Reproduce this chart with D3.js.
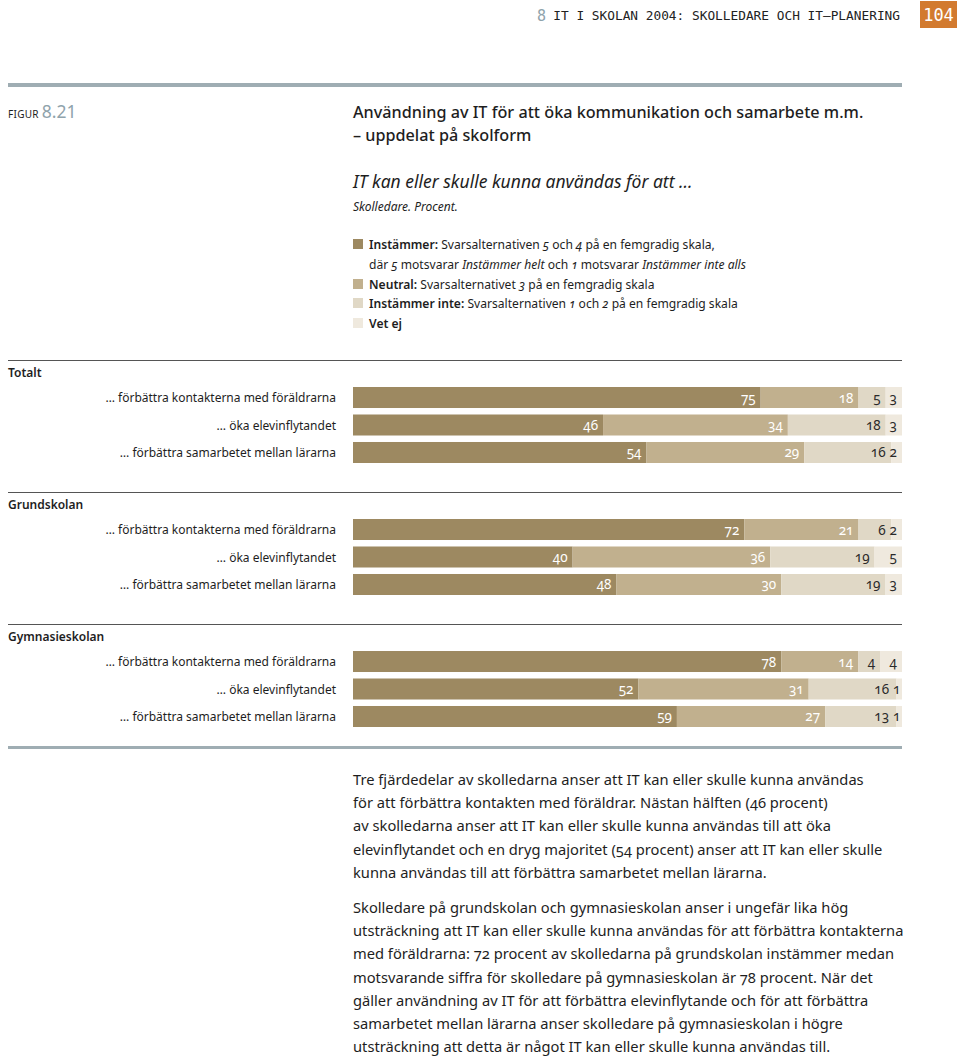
<!DOCTYPE html>
<html><head><meta charset="utf-8">
<script src="https://cdn.jsdelivr.net/npm/d3@7"></script>
<style>
body{margin:0;background:#fff;}
svg{display:block;font-family:"Noto Sans",sans-serif;}
.onum{font-variant-numeric:oldstyle-nums;font-feature-settings:"onum" 1;}
</style></head><body>
<script>
const groups = ["Totalt", "Grundskolan", "Gymnasieskolan"];
const items = ["… förbättra kontakterna med föräldrarna", "… öka elevinflytandet", "… förbättra samarbetet mellan lärarna"];
const seriesNames = ["Instämmer", "Neutral", "Instämmer inte", "Vet ej"];
const instammer     = [75, 46, 54, 72, 40, 48, 78, 52, 59];
const neutral       = [18, 34, 29, 21, 36, 30, 14, 31, 27];
const instammerInte = [5, 18, 16, 6, 19, 19, 4, 16, 13];
const vetEj         = [3, 3, 2, 2, 5, 3, 4, 1, 1];
const colors = ["#9d8961", "#c1b08e", "#e0d8c6", "#efe9de"];
const labelColors = ["#fff", "#fff", "#2a2a2a", "#2a2a2a"];

const W = 960, H = 1056;
const svg = d3.select("body").append("svg").attr("width", W).attr("height", H);
const ink = "#1e1e1e";

// Header
svg.append("text").attr("x", 537).attr("y", 21).attr("fill", "#8fa3ac")
  .style("font-family", "'DejaVu Sans Mono',monospace").style("font-size", "15px").text("8");
svg.append("text").attr("x", 900).attr("y", 20).attr("text-anchor", "end").attr("fill", "#222")
  .style("font-family", "'DejaVu Sans Mono',monospace").style("font-size", "12.8px")
  .text("IT I SKOLAN 2004: SKOLLEDARE OCH IT–PLANERING");
svg.append("rect").attr("x", 920).attr("y", 1).attr("width", 37).attr("height", 27).attr("fill", "#d27a2f");
svg.append("text").attr("x", 938.5).attr("y", 21).attr("text-anchor", "middle").attr("fill", "#fff")
  .style("font-family", "'DejaVu Sans Mono',monospace").style("font-size", "17px").text("104");

// top rule
svg.append("rect").attr("x", 8).attr("y", 83).attr("width", 894).attr("height", 4).attr("fill", "#9fadb3");

// Figure label
const fig = svg.append("text").attr("x", 8).attr("y", 118);
fig.append("tspan").attr("fill", ink).style("font-size", "10px").style("letter-spacing", "0.3px").text("FIGUR ");
fig.append("tspan").attr("fill", "#8fa3ac").style("font-size", "17.5px").text("8.21");

// Title
svg.append("text").attr("x", 353).attr("y", 118).attr("fill", ink).style("font-size", "16.2px").style("font-weight", 500)
  .text("Användning av IT för att öka kommunikation och samarbete m.m.");
svg.append("text").attr("x", 353).attr("y", 141).attr("fill", ink).style("font-size", "16.2px").style("font-weight", 500)
  .text("– uppdelat på skolform");
svg.append("text").attr("x", 353).attr("y", 188).attr("fill", ink).style("font-size", "17.5px").style("font-style", "italic")
  .text("IT kan eller skulle kunna användas för att …");
svg.append("text").attr("x", 353).attr("y", 211).attr("fill", ink).style("font-size", "12px").style("font-style", "italic")
  .text("Skolledare. Procent.");

// Legend
const legendRows = [
  {sw: 0, y: 249, parts: [["Instämmer:", "b"], [" Svarsalternativen ", ""], ["5", "i"], [" och ", ""], ["4", "i"], [" på en femgradig skala,", ""]]},
  {sw: -1, y: 269, parts: [["där ", ""], ["5", "i"], [" motsvarar ", ""], ["Instämmer helt", "i"], [" och ", ""], ["1", "i"], [" motsvarar ", ""], ["Instämmer inte alls", "i"]]},
  {sw: 1, y: 289, parts: [["Neutral:", "b"], [" Svarsalternativet ", ""], ["3", "i"], [" på en femgradig skala", ""]]},
  {sw: 2, y: 308, parts: [["Instämmer inte:", "b"], [" Svarsalternativen ", ""], ["1", "i"], [" och ", ""], ["2", "i"], [" på en femgradig skala", ""]]},
  {sw: 3, y: 328, parts: [["Vet ej", "b"]]}
];
legendRows.forEach(r => {
  if (r.sw >= 0) svg.append("rect").attr("x", 353).attr("y", r.y - 10).attr("width", 10).attr("height", 10).attr("fill", colors[r.sw]);
  const t = svg.append("text").attr("x", 369).attr("y", r.y).attr("fill", ink).style("font-size", "12.1px").attr("class", "onum");
  r.parts.forEach(p => {
    const s = t.append("tspan").text(p[0]);
    if (p[1] === "b") s.style("font-weight", 600);
    if (p[1] === "i") s.style("font-style", "italic");
  });
});

// Chart
const gy = d3.scaleBand().domain(groups).range([360, 756]);
const iy = d3.scaleBand().domain(items).range([27, 103]).paddingInner(0.236).paddingOuter(0);
const x0 = 353, x1 = 902;

groups.forEach((g, gi) => {
  const top = gy(g);
  svg.append("line").attr("x1", 8).attr("x2", 902).attr("y1", top + 0.5).attr("y2", top + 0.5)
    .attr("stroke", "#555").attr("stroke-width", 1);
  svg.append("text").attr("x", 8).attr("y", top + 17).attr("fill", ink).style("font-size", "12px").style("font-weight", 600).text(g);
  items.forEach((it, ii) => {
    const idx = gi * 3 + ii;
    const vals = [instammer[idx], neutral[idx], instammerInte[idx], vetEj[idx]];
    const total = d3.sum(vals);
    const x = d3.scaleLinear().domain([0, total]).range([x0, x1]);
    const y = top + iy(it), h = iy.bandwidth();
    svg.append("text").attr("x", 336).attr("y", y + h / 2 + 4.5).attr("text-anchor", "end").attr("fill", ink)
      .style("font-size", "12px").text(it);
    let cum = 0;
    const ends = [];
    vals.forEach((v, si) => {
      const a = x(cum), b = x(cum + v);
      svg.append("rect").attr("x", a).attr("y", y).attr("width", b - a).attr("height", h).attr("fill", colors[si]);
      cum += v;
      ends.push(b);
    });
    // place labels right-to-left so small segments don't collide
    let limit = Infinity;
    for (let si = vals.length - 1; si >= 0; si--) {
      const segW = ends[si] - (si ? ends[si - 1] : x0);
      let right = Math.min(ends[si] - (segW < 10 ? 1.5 : 5), limit);
      const t = svg.append("text").attr("class", "onum").attr("x", right).attr("y", y + h / 2 + 5).attr("text-anchor", "end")
        .attr("fill", labelColors[si]).style("font-size", "13.5px").text(vals[si]);
      const w = t.node().getComputedTextLength();
      limit = right - w - 4;
    }
  });
});
svg.append("rect").attr("x", 8).attr("y", 746).attr("width", 894).attr("height", 3).attr("fill", "#9fadb3");

// Body text
const para1 = [
  "Tre fjärdedelar av skolledarna anser att IT kan eller skulle kunna användas",
  "för att förbättra kontakten med föräldrar. Nästan hälften (46 procent)",
  "av skolledarna anser att IT kan eller skulle kunna användas till att öka",
  "elevinflytandet och en dryg majoritet (54 procent) anser att IT kan eller skulle",
  "kunna användas till att förbättra samarbetet mellan lärarna."
];
const para2 = [
  "Skolledare på grundskolan och gymnasieskolan anser i ungefär lika hög",
  "utsträckning att IT kan eller skulle kunna användas för att förbättra kontakterna",
  "med föräldrarna: 72 procent av skolledarna på grundskolan instämmer medan",
  "motsvarande siffra för skolledare på gymnasieskolan är 78 procent. När det",
  "gäller användning av IT för att förbättra elevinflytande och för att förbättra",
  "samarbetet mellan lärarna anser skolledare på gymnasieskolan i högre",
  "utsträckning att detta är något IT kan eller skulle kunna användas till."
];
const bodySize = "14.7px";
para1.forEach((l, i) => svg.append("text").attr("class", "onum").attr("x", 353).attr("y", 785 + i * 23.2)
  .attr("fill", ink).style("font-size", bodySize).text(l));
para2.forEach((l, i) => svg.append("text").attr("class", "onum").attr("x", 353).attr("y", 913 + i * 23.2)
  .attr("fill", ink).style("font-size", bodySize).text(l));
</script>
</body></html>
